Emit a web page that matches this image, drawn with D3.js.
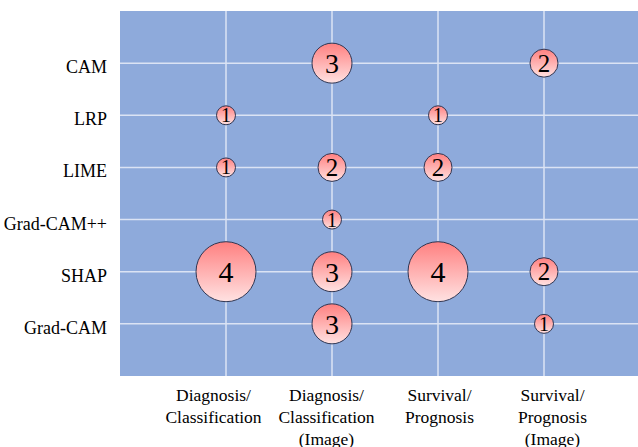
<!DOCTYPE html>
<html><head><meta charset="utf-8">
<script src="https://cdn.jsdelivr.net/npm/d3@7/dist/d3.min.js"></script>
<style>html,body{margin:0;padding:0;background:#fff;}svg{display:block;}</style>
</head><body>
<svg id="chart" width="638" height="447"></svg>
<script>
const methods = ["CAM", "LRP", "LIME", "Grad-CAM++", "SHAP", "Grad-CAM"];
const tasks = ["Diagnosis/Classification", "Diagnosis/Classification (Image)", "Survival/Prognosis", "Survival/Prognosis (Image)"];
const taskLabelLines = [["Diagnosis/", "Classification"], ["Diagnosis/", "Classification", "(Image)"], ["Survival/", "Prognosis"], ["Survival/", "Prognosis", "(Image)"]];
// counts per method, one value per task (0 = no bubble)
const countsCAM       = [0, 3, 0, 2];
const countsLRP       = [1, 0, 1, 0];
const countsLIME      = [1, 2, 2, 0];
const countsGradCAMpp = [0, 1, 0, 0];
const countsSHAP      = [4, 3, 4, 2];
const countsGradCAM   = [0, 3, 0, 1];
const countRows = [countsCAM, countsLRP, countsLIME, countsGradCAMpp, countsSHAP, countsGradCAM];

const svg = d3.select("#chart");
const plot = {left: 120, top: 11, right: 650, bottom: 376};

const x = d3.scalePoint().domain(tasks).range([plot.left, plot.right]).padding(1);
const xLabel = d3.scalePoint().domain(tasks).range([157, 609]).padding(0.5);
const y = d3.scalePoint().domain(methods).range([plot.top, plot.bottom]).padding(1);
const r = d3.scaleLinear().domain([1, 2, 3, 4]).range([9.5, 14, 20, 30]);
const fs = d3.scaleLinear().domain([1, 2, 3, 4]).range([20, 25, 28, 30]);

const defs = svg.append("defs");
const grad = defs.append("linearGradient").attr("id", "bub").attr("x1", 0).attr("y1", 0).attr("x2", 0).attr("y2", 1);
grad.append("stop").attr("offset", "0%").attr("stop-color", "#ff8080");
grad.append("stop").attr("offset", "100%").attr("stop-color", "#ffe2e2");

svg.append("rect").attr("x", plot.left).attr("y", plot.top)
  .attr("width", 638 - plot.left).attr("height", plot.bottom - plot.top)
  .attr("fill", "#8eaadb");

// gridlines
svg.append("g").selectAll("line").data(tasks).join("line")
  .attr("x1", d => x(d)).attr("x2", d => x(d))
  .attr("y1", plot.top).attr("y2", plot.bottom)
  .attr("stroke", "#dbe3f4").attr("stroke-width", 1.5);
svg.append("g").selectAll("line").data(methods).join("line")
  .attr("x1", plot.left).attr("x2", 638)
  .attr("y1", d => y(d)).attr("y2", d => y(d))
  .attr("stroke", "#dbe3f4").attr("stroke-width", 1.5);

// y labels
svg.append("g").selectAll("text").data(methods).join("text")
  .attr("x", 107).attr("y", d => y(d) + 10)
  .attr("text-anchor", "end")
  .attr("font-family", "'Liberation Serif', 'Times New Roman', serif")
  .attr("font-size", 18).attr("fill", "#000")
  .text(d => d);

// x labels
const xl = svg.append("g").selectAll("text").data(tasks).join("text")
  .attr("text-anchor", "middle")
  .attr("font-family", "'Liberation Serif', 'Times New Roman', serif")
  .attr("font-size", 17.5).attr("fill", "#000");
xl.each(function(d, i) {
  d3.select(this).selectAll("tspan").data(taskLabelLines[i]).join("tspan")
    .attr("x", xLabel(d)).attr("y", (t, j) => 401 + j * 22)
    .text(t => t);
});

// bubbles
const cells = [];
countRows.forEach((row, i) => row.forEach((v, j) => { if (v > 0) cells.push({m: methods[i], t: tasks[j], v}); }));
const g = svg.append("g").selectAll("g").data(cells).join("g")
  .attr("transform", d => `translate(${x(d.t)},${y(d.m)})`);
g.append("circle").attr("r", d => r(d.v))
  .attr("fill", "url(#bub)").attr("stroke", "#2f3652").attr("stroke-width", 1);
g.append("text").attr("text-anchor", "middle").attr("dy", "0.35em")
  .attr("font-family", "'Liberation Serif', 'Times New Roman', serif")
  .attr("font-size", d => fs(d.v)).attr("fill", "#000")
  .text(d => d.v);
</script>
</body></html>
